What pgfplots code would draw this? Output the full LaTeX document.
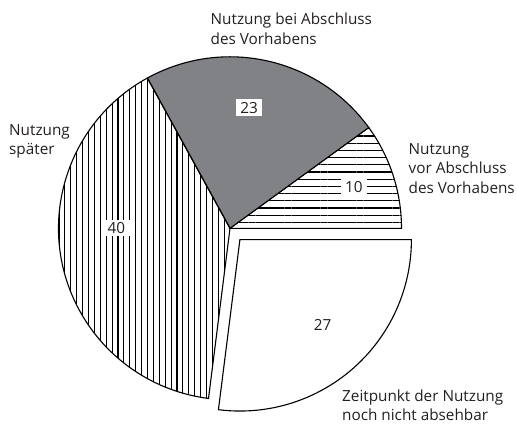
\documentclass[border=0pt]{standalone}
\usepackage{pgfplots}
\usepackage{pgfplotstable}
\pgfplotsset{compat=1.18}
\usetikzlibrary{patterns.meta}
\usepackage{fontspec}
\setmainfont{Open Sans}
\definecolor{piegray}{RGB}{128,130,133}
\definecolor{txt}{RGB}{35,31,32}

\pgfplotstableread{
value
10
23
40
27
}\piedata

\begin{document}
\begin{tikzpicture}[every node/.style={font=\fontsize{15.3}{19.3}\selectfont, text=txt}]
\pgfplotstablegetelem{0}{value}\of\piedata \pgfmathsetmacro{\vA}{\pgfplotsretval}
\pgfplotstablegetelem{1}{value}\of\piedata \pgfmathsetmacro{\vB}{\pgfplotsretval}
\pgfplotstablegetelem{2}{value}\of\piedata \pgfmathsetmacro{\vC}{\pgfplotsretval}
\pgfplotstablegetelem{3}{value}\of\piedata \pgfmathsetmacro{\vD}{\pgfplotsretval}
\pgfmathsetmacro{\aA}{0}
\pgfmathsetmacro{\aB}{\aA+3.6*\vA}
\pgfmathsetmacro{\aC}{\aB+3.6*\vB}
\pgfmathsetmacro{\aD}{\aC+3.6*\vC}
\pgfmathsetmacro{\aE}{\aD+3.6*\vD}
\pgfmathsetmacro{\mD}{(\aD+\aE)/2}
\pgfmathsetmacro{\ox}{230+15*cos(\mD)}
\pgfmathsetmacro{\oy}{195.7+15*sin(\mD)}
\path[use as bounding box] (0,0) rectangle (516pt,424pt);
\begin{axis}[hide axis, scale only axis, width=516pt, height=424pt,
  xmin=0, xmax=516, ymin=0, ymax=424, clip=false]
% slice 10: horizontal lines
\filldraw[draw=black, line width=1.1pt, pattern={Lines[angle=0,distance=7.2pt,line width=1.2pt]}, pattern color=black]
  (axis cs:230,195.7) -- ++(\aA:171.5pt) arc[start angle=\aA, end angle=\aB, radius=171.5pt] -- cycle;
% slice 23: gray
\filldraw[draw=black, line width=1.1pt, fill=piegray]
  (axis cs:230,195.7) -- ++(\aB:171.5pt) arc[start angle=\aB, end angle=\aC, radius=171.5pt] -- cycle;
% slice 40: vertical lines
\filldraw[draw=black, line width=1.1pt, pattern={Lines[angle=90,distance=5.9pt,line width=1.1pt]}, pattern color=black]
  (axis cs:230,195.7) -- ++(\aC:171.5pt) arc[start angle=\aC, end angle=\aD, radius=171.5pt] -- cycle;
% slice 27: white, exploded
\filldraw[draw=black, line width=1.1pt, fill=white]
  (axis cs:\ox,\oy) -- ++(\aD:171.5pt) arc[start angle=\aD, end angle=\aE, radius=171.5pt] -- cycle;
% value labels
\node[fill=white, inner xsep=4.5pt, inner ysep=3pt] at (axis cs:249,316.2) {23};
\node[fill=white, inner xsep=4.5pt, inner ysep=2.5pt] at (axis cs:353.8,237.3) {10};
\node[fill=white, inner xsep=4.5pt, inner ysep=2.5pt] at (axis cs:116.3,196.2) {40};
\node at (axis cs:322.5,99.5) {27};
% outer labels
\node[anchor=base west, inner sep=0pt] at (axis cs:210.5,399) {Nutzung bei Abschluss};
\node[anchor=base west, inner sep=0pt] at (axis cs:210.5,379.7) {des Vorhabens};
\node[anchor=base west, inner sep=0pt] at (axis cs:408.5,270) {Nutzung};
\node[anchor=base west, inner sep=0pt] at (axis cs:408.5,250.5) {vor Abschluss};
\node[anchor=base west, inner sep=0pt] at (axis cs:408.5,231) {des Vorhabens};
\node[anchor=base west, inner sep=0pt] at (axis cs:9,289) {Nutzung};
\node[anchor=base west, inner sep=0pt] at (axis cs:9,269.7) {später};
\node[anchor=base west, inner sep=0pt] at (axis cs:342,22.5) {Zeitpunkt der Nutzung};
\node[anchor=base west, inner sep=0pt] at (axis cs:342,3.8) {noch nicht absehbar};
\end{axis}
\end{tikzpicture}
\end{document}
